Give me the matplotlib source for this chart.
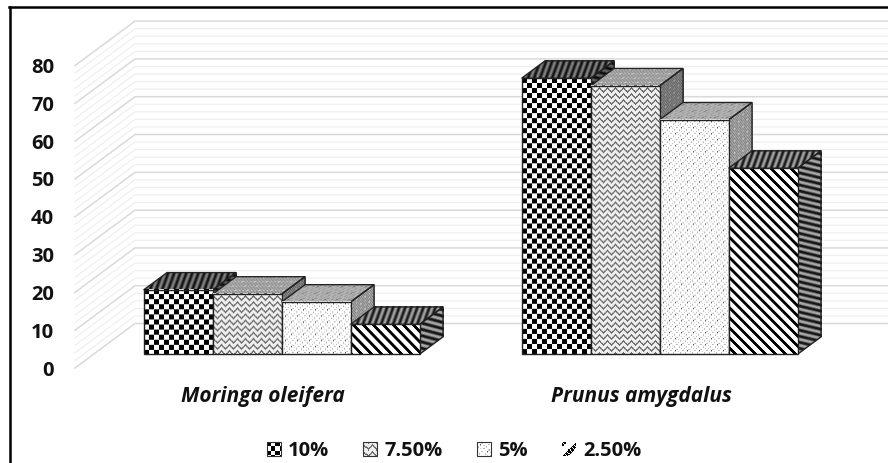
import numpy as np
import matplotlib
matplotlib.use("Agg")
import matplotlib.pyplot as plt
from matplotlib.legend_handler import HandlerBase
from matplotlib.lines import Line2D
from matplotlib.patches import Patch, Polygon, Rectangle
from matplotlib.transforms import Affine2D

categories = ["Moringa oleifera", "Prunus amygdalus"]
series_names = ["10%", "7.50%", "5%", "2.50%"]
values_10 = [17.0, 73.0]
values_75 = [15.9, 71.0]
values_5 = [13.8, 62.0]
values_25 = [7.9, 49.2]
y_ticks = [0, 10, 20, 30, 40, 50, 60, 70, 80]

W, H = 888, 463
PX_X = 378.0      # pixels per category
PX_Y = 3.78       # pixels per value unit
WALL_DX = 60 / PX_X
WALL_DY = 44.5 / PX_Y
BAR_W = 69 / PX_X
D_FRONT = 0.31
D_BAR = 0.39

plt.rcParams["font.family"] = ["Open Sans", "DejaVu Sans"]


def texture(kind, h, w):
    r, c = np.indices((max(h, 2), max(w, 2)))
    if kind == "checker":
        return (((r // 5) + (c // 5)) % 2).astype(float)
    if kind == "wave":
        tri = np.abs((c % 8) - 4)
        t = np.ones(r.shape) * 0.93
        t[((r + tri) % 6) < 2] = 0.42
        t[(r % 6 == 4) & (c % 4 == 2)] = 0.6
        return t
    if kind == "dots":
        t = np.ones(r.shape)
        t[((r + c) % 6 == 0) & ((r - c) % 4 == 0)] = 0.7
        t[((r - c) % 6 == 3) & ((r + c) % 4 == 1)] = 0.8
        t[((r % 12) == 2) & ((c % 12) == 3)] = 0.3
        t[((r % 12) == 8) & ((c % 12) == 9)] = 0.3
        return t
    if kind == "grain":
        t = np.ones(r.shape) * 0.75
        t[(r + c) % 3 == 0] = 0.45
        t[((r % 4) == 1) & ((c % 4) == 1)] = 1.0
        return t
    if kind == "diag":
        return (((c - r) % 10) >= 4).astype(float)
    if kind == "stripes":
        return np.where(((c - r) % 6) < 3, 0.08, 0.7)
    return np.ones(r.shape)


def face(ax, origin, e1, e2, tex, zorder):
    # tex is stretched on the parallelogram origin, origin+e1, origin+e2
    m = np.array([[e1[0], e2[0], origin[0]],
                  [e1[1], e2[1], origin[1]],
                  [0, 0, 1]])
    ax.imshow(tex, cmap="gray", vmin=0, vmax=1, extent=(0, 1, 0, 1), aspect="auto",
              interpolation="bilinear", transform=Affine2D(m) + ax.transData, zorder=zorder)
    x0, y0 = origin
    pts = [(x0, y0), (x0 + e1[0], y0 + e1[1]),
           (x0 + e1[0] + e2[0], y0 + e1[1] + e2[1]), (x0 + e2[0], y0 + e2[1])]
    ax.add_patch(Polygon(pts, closed=True, fill=False, ec="#222222", lw=1.0, zorder=zorder + 0.1))


def bar3d(ax, xc, value, z, front, top, side, shade_top, shade_side):
    x = xc + D_FRONT * WALL_DX - BAR_W / 2
    y = D_FRONT * WALL_DY
    dx = D_BAR * WALL_DX
    dy = D_BAR * WALL_DY
    pw, ph = int(BAR_W * PX_X), int(value * PX_Y)
    dw, dh = int(dx * PX_X), int(dy * PX_Y)
    face(ax, (x, y + value), (BAR_W, 0), (dx, dy), texture(top, dh, pw) * shade_top, z)
    face(ax, (x + BAR_W, y), (dx, dy), (0, value), texture(side, ph, dw) * shade_side, z)
    face(ax, (x, y), (BAR_W, 0), (0, value), texture(front, ph, pw), z + 0.2)


class TileHandler(HandlerBase):
    def __init__(self, kind):
        super().__init__()
        self.kind = kind

    def create_artists(self, legend, orig_handle, xdescent, ydescent, width, height, fontsize, trans):
        n = 13
        r, c = np.indices((n, n))
        if self.kind == "checker":
            tile = (((r // 4) + (c // 4)) % 2).astype(float)
        elif self.kind == "diag":
            tile = (((c + r) % 13) >= 5).astype(float)
            tile[(r + c) % 13 < 5] = 0.0
            tile[(c - r) % 4 == 0] = 1.0
        else:
            tile = texture(self.kind, n, n)
        cw, ch = width / n, height / n
        arts = []
        for i in range(n):
            for j in range(n):
                if tile[i, j] < 0.95:
                    arts.append(Rectangle((-xdescent + j * cw, -ydescent + (n - 1 - i) * ch), cw, ch,
                                          fc=str(tile[i, j]), ec="none", transform=trans))
        if self.kind != "diag":
            arts.append(Rectangle((-xdescent, -ydescent), width, height, fill=False, ec="#333333",
                                  lw=0.8, transform=trans))
        return arts


fig = plt.figure(figsize=(W / 100, H / 100), dpi=100)
ax = fig.add_axes([75 / W, (H - 368) / H, (W - 75) / W, (368 - 7) / H])
xlim = ((75 - 263) / PX_X, (W - 263) / PX_X)
ylim = (0, (368 - 7) / PX_Y)

# back wall and side wall lines
for v in np.arange(0, 81, 2):
    major = v % 10 == 0
    ax.plot([xlim[0], xlim[0] + WALL_DX, xlim[1]], [v, v + WALL_DY, v + WALL_DY],
            color="#d9d9d9" if major else "#efefef", lw=1.1 if major else 0.9,
            zorder=1, clip_on=False)

x_pos = np.arange(len(categories))
kinds = [("checker", "stripes", "stripes", 0.75, 0.55),
         ("wave", "grain", "grain", 0.95, 0.7),
         ("dots", "dots", "grain", 0.7, 0.9),
         ("diag", "stripes", "stripes", 0.95, 0.95)]
all_values = [values_10, values_75, values_5, values_25]
z = 3
for i, xc in enumerate(x_pos):
    for k, vals in enumerate(all_values):
        front, top, side, st, ss = kinds[k]
        bar3d(ax, xc + (k - 1.5) * BAR_W, vals[i], z, front, top, side, st, ss)
        z += 1

ax.set_xlim(xlim)
ax.set_ylim(ylim)
ax.set_yticks(y_ticks)
ax.set_xticks(x_pos)
ax.set_xticklabels(categories, fontsize=15, fontweight="bold", fontstyle="italic", color="#111111")
ax.tick_params(axis="y", length=0, pad=15, labelsize=14.5, labelcolor="#111111")
ax.tick_params(axis="x", length=0, pad=13)
for lab in ax.get_yticklabels():
    lab.set_fontweight("bold")
for s in ax.spines.values():
    s.set_visible(False)
ax.patch.set_visible(False)

handles = [Patch(label=n) for n in series_names]
leg_kinds = ["checker", "wave", "dots", "diag"]
ax.legend(handles=handles, handler_map={h: TileHandler(k) for h, k in zip(handles, leg_kinds)},
          loc="center", bbox_to_anchor=(454 / W, (H - 451) / H), bbox_transform=fig.transFigure,
          ncol=4, frameon=False, prop={"size": 14.5, "weight": "bold"}, handlelength=0.7,
          handleheight=0.7, handletextpad=0.35, columnspacing=1.7, labelcolor="#111111")

# picture frame, cut by the right and bottom edges
fig.add_artist(Line2D([9.5 / W, 9.5 / W], [0, 1 - 7 / H], color="black", lw=1.8))
fig.add_artist(Line2D([9 / W, 1], [1 - 7 / H, 1 - 7 / H], color="black", lw=1.8))

fig.savefig("out.png", dpi=100)
